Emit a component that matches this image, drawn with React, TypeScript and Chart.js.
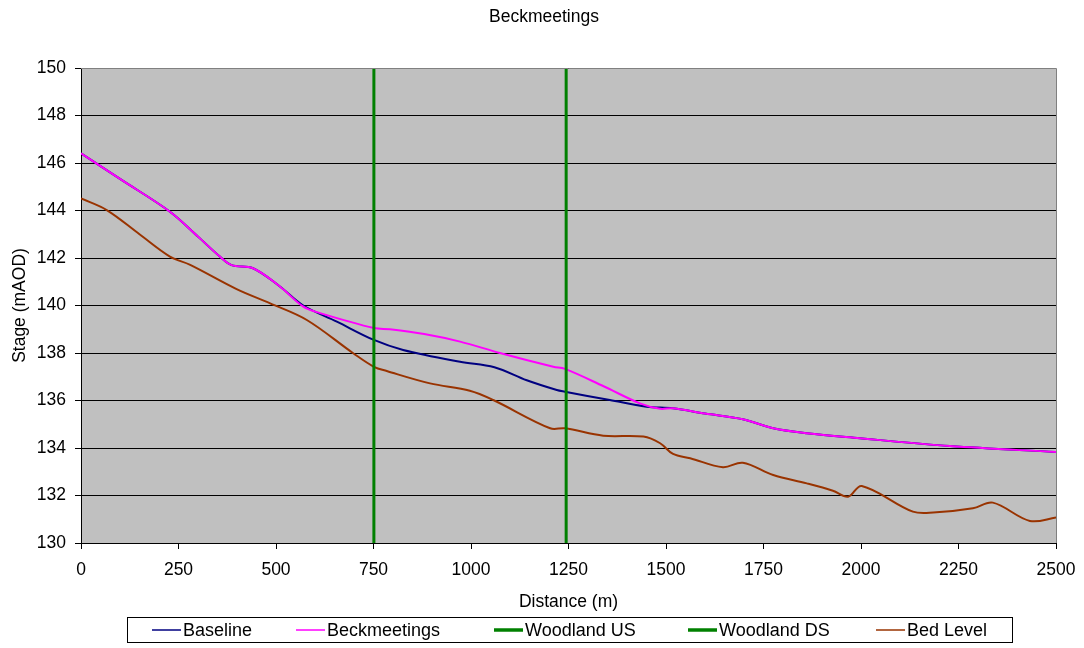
import React, { useEffect, useRef } from "react";
import { Chart, registerables } from "chart.js";

Chart.register(...registerables);

const chartTitle = "Beckmeetings";
const xTitle = "Distance (m)";
const yTitle = "Stage (mAOD)";

const baselineX = [0, 100, 228, 300, 356, 386, 441, 510, 570, 656, 751, 826, 972, 1060, 1143, 1220, 1241, 1356, 1450, 1518, 1600, 1697, 1775, 1861, 1997, 2228, 2500];
const baselineY = [146.41, 145.33, 143.95, 142.9, 142.06, 141.7, 141.57, 140.8, 140.0, 139.32, 138.55, 138.13, 137.63, 137.4, 136.85, 136.44, 136.37, 136.02, 135.74, 135.67, 135.45, 135.21, 134.83, 134.62, 134.41, 134.08, 133.83];

const beckX = [0, 100, 228, 300, 356, 386, 441, 510, 570, 613, 751, 792, 880, 972, 1074, 1211, 1241, 1340, 1433, 1485, 1518, 1600, 1697, 1775, 1861, 1997, 2228, 2500];
const beckY = [146.41, 145.33, 143.95, 142.9, 142.06, 141.7, 141.57, 140.8, 139.95, 139.68, 139.05, 139.0, 138.8, 138.48, 138.0, 137.42, 137.33, 136.6, 135.88, 135.65, 135.67, 135.45, 135.21, 134.83, 134.62, 134.41, 134.08, 133.83];

const woodlandUSX = [751, 751];
const woodlandUSY = [130, 150];
const woodlandDSX = [1244, 1244];
const woodlandDSY = [130, 150];

const bedX = [0, 66, 150, 228, 280, 399, 485, 579, 698, 751, 784, 895, 997, 1057, 1203, 1241, 1339, 1442, 1485, 1518, 1562, 1646, 1697, 1775, 1861, 1928, 1967, 2002, 2133, 2185, 2287, 2338, 2433, 2500];
const bedY = [144.51, 144.02, 143.0, 142.06, 141.71, 140.69, 140.09, 139.39, 137.99, 137.42, 137.24, 136.72, 136.41, 136.02, 134.83, 134.83, 134.52, 134.48, 134.2, 133.75, 133.57, 133.19, 133.38, 132.86, 132.51, 132.2, 131.95, 132.4, 131.32, 131.28, 131.46, 131.7, 130.93, 131.07];

const xMin = 0, xMax = 2500, xStep = 250;
const yMin = 130, yMax = 150, yStep = 2;

const FONT = "'Liberation Sans', Arial, sans-serif";

const zip = (xs: number[], ys: number[]) => xs.map((x, i) => ({ x, y: ys[i] }));

const legendItems = [
  { label: "Baseline", color: "#000080", width: 1.5, at: 152 },
  { label: "Beckmeetings", color: "#FF00FF", width: 1.5, at: 296 },
  { label: "Woodland US", color: "#008000", width: 3.5, at: 494 },
  { label: "Woodland DS", color: "#008000", width: 3.5, at: 688 },
  { label: "Bed Level", color: "#993300", width: 1.5, at: 876 },
];

const decorPlugin = {
  id: "decor",
  beforeDraw(chart: any) {
    const { ctx, chartArea } = chart;
    ctx.save();
    ctx.fillStyle = "#ffffff";
    ctx.fillRect(0, 0, chart.width, chart.height);
    ctx.fillStyle = "#C0C0C0";
    ctx.fillRect(chartArea.left, chartArea.top, chartArea.right - chartArea.left, chartArea.bottom - chartArea.top);
    ctx.restore();
  },
  afterDraw(chart: any) {
    const { ctx, chartArea } = chart;
    ctx.save();
    ctx.strokeStyle = "#808080";
    ctx.lineWidth = 1;
    ctx.beginPath();
    ctx.moveTo(chartArea.left, chartArea.top + 0.5);
    ctx.lineTo(chartArea.right + 0.5, chartArea.top + 0.5);
    ctx.lineTo(chartArea.right + 0.5, chartArea.bottom);
    ctx.stroke();
    ctx.fillStyle = "#000";
    ctx.font = `17.5px ${FONT}`;
    ctx.textAlign = "center";
    ctx.textBaseline = "middle";
    ctx.fillText(chartTitle, 544, 17);
    ctx.font = `18px ${FONT}`;
    ctx.textAlign = "left";
    const boxL = 127.5, boxT = 617.5, boxW = 885, boxH = 25;
    ctx.strokeStyle = "#000";
    ctx.lineWidth = 1;
    ctx.strokeRect(boxL, boxT, boxW, boxH);
    const cy = boxT + boxH / 2;
    legendItems.forEach((it) => {
      const x = it.at;
      ctx.strokeStyle = it.color;
      ctx.lineWidth = it.width;
      ctx.beginPath();
      ctx.moveTo(x, cy);
      ctx.lineTo(x + 29, cy);
      ctx.stroke();
      ctx.fillStyle = "#000";
      ctx.fillText(it.label, x + 31, cy + 1);
    });
    ctx.restore();
  },
};

export default function App() {
  const ref = useRef<HTMLCanvasElement>(null);
  useEffect(() => {
    document.body.style.margin = "0";
    const canvas = ref.current;
    if (!canvas) return;
    const chart = new Chart(canvas, {
      type: "line",
      data: {
        datasets: [
          { label: "Baseline", data: zip(baselineX, baselineY), borderColor: "#000080", borderWidth: 2, pointRadius: 0, tension: 0.35, order: 2 },
          { label: "Beckmeetings", data: zip(beckX, beckY), borderColor: "#FF00FF", borderWidth: 2, pointRadius: 0, tension: 0.35, order: 1 },
          { label: "Woodland US", data: zip(woodlandUSX, woodlandUSY), borderColor: "#008000", borderWidth: 3, pointRadius: 0, tension: 0, order: 0 },
          { label: "Woodland DS", data: zip(woodlandDSX, woodlandDSY), borderColor: "#008000", borderWidth: 3, pointRadius: 0, tension: 0, order: 0 },
          { label: "Bed Level", data: zip(bedX, bedY), borderColor: "#993300", borderWidth: 2, pointRadius: 0, tension: 0.35, order: 3 },
        ],
      } as any,
      options: {
        animation: false,
        responsive: false,
        devicePixelRatio: 1,
        layout: { padding: { top: 68, right: 28, bottom: 31, left: 0 } },
        plugins: { legend: { display: false }, title: { display: false }, tooltip: { enabled: false } },
        scales: {
          x: {
            type: "linear",
            min: xMin,
            max: xMax,
            afterFit: (s: any) => { s.height = 74; s.paddingLeft = 0; s.paddingRight = 0; },
            ticks: { stepSize: xStep, color: "#000", font: { family: FONT, size: 17.5 }, padding: 11, maxRotation: 0, callback: (v: any) => String(v) },
            grid: { display: true, drawOnChartArea: false, tickLength: 6, color: "#000" },
            border: { color: "#000", width: 1 },
            title: { display: true, text: xTitle, color: "#000", font: { family: FONT, size: 17.5 }, padding: { top: 4, bottom: 4 } },
          },
          y: {
            type: "linear",
            min: yMin,
            max: yMax,
            afterFit: (s: any) => { s.width = 81; s.paddingTop = 0; s.paddingBottom = 0; },
            ticks: { stepSize: yStep, color: "#000", font: { family: FONT, size: 17.5 }, padding: 9, callback: (v: any) => String(v) },
            grid: { display: true, drawOnChartArea: true, tickLength: 6, color: "#000" },
            border: { color: "#000", width: 1 },
            title: { display: true, text: yTitle, color: "#000", font: { family: FONT, size: 17.5 }, padding: { top: 10, bottom: 0 } },
          },
        },
      } as any,
      plugins: [decorPlugin],
    });
    return () => chart.destroy();
  }, []);
  return (
    <div style={{ width: 1084, height: 648 }}>
      <canvas ref={ref} width={1084} height={648} style={{ display: "block" }} />
    </div>
  );
}
